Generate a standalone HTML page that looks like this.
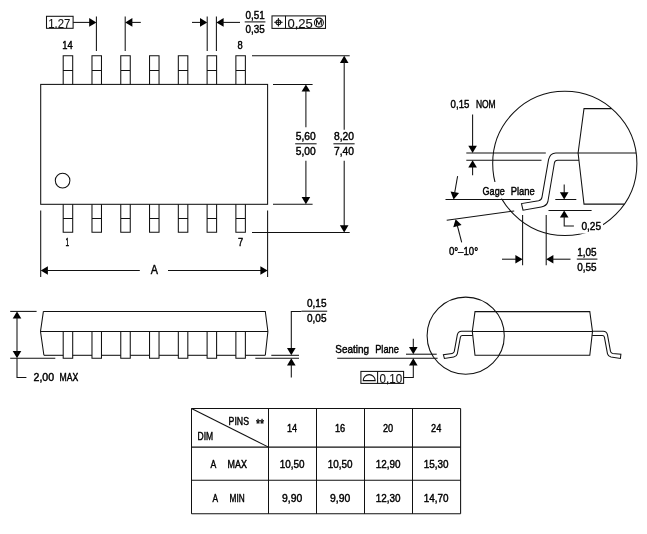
<!DOCTYPE html>
<html><head><meta charset="utf-8"><title>Package outline</title>
<style>
html,body{margin:0;padding:0;background:#fff;}
body{width:647px;height:534px;overflow:hidden;}
svg{display:block;will-change:transform;opacity:0.999;}
svg *{vector-effect:none;}
line,path,rect,circle{fill:none;stroke:#111;stroke-width:1.05;stroke-linecap:butt;stroke-linejoin:miter;}
.f{fill:#000;stroke:none;}
rect.w{fill:#fff;stroke:none;}
text{font-family:"Liberation Sans",sans-serif;fill:#000;stroke:#000;stroke-width:0.45;stroke-linejoin:round;}
text.b{stroke-width:0.1;fill:#111;}
</style></head>
<body>
<svg width="647" height="534" viewBox="0 0 647 534">
<rect class="w" x="0" y="0" width="647" height="534"/>
<rect x="40.7" y="84.4" width="226.90" height="119.90"/>
<path d="M63.20,84.4 V55.7 H72.70 V84.4 M63.20,70.4 H72.70" />
<path d="M63.20,204.3 V232.3 H72.70 V204.3 M63.20,218.5 H72.70" />
<path d="M91.98,84.4 V55.7 H101.48 V84.4 M91.98,70.4 H101.48" />
<path d="M91.98,204.3 V232.3 H101.48 V204.3 M91.98,218.5 H101.48" />
<path d="M120.76,84.4 V55.7 H130.26 V84.4 M120.76,70.4 H130.26" />
<path d="M120.76,204.3 V232.3 H130.26 V204.3 M120.76,218.5 H130.26" />
<path d="M149.54,84.4 V55.7 H159.04 V84.4 M149.54,70.4 H159.04" />
<path d="M149.54,204.3 V232.3 H159.04 V204.3 M149.54,218.5 H159.04" />
<path d="M178.32,84.4 V55.7 H187.82 V84.4 M178.32,70.4 H187.82" />
<path d="M178.32,204.3 V232.3 H187.82 V204.3 M178.32,218.5 H187.82" />
<path d="M207.10,84.4 V55.7 H216.60 V84.4 M207.10,70.4 H216.60" />
<path d="M207.10,204.3 V232.3 H216.60 V204.3 M207.10,218.5 H216.60" />
<path d="M235.88,84.4 V55.7 H245.38 V84.4 M235.88,70.4 H245.38" />
<path d="M235.88,204.3 V232.3 H245.38 V204.3 M235.88,218.5 H245.38" />
<circle cx="62.6" cy="180.6" r="7.3"/>
<line x1="40.70" y1="210.50" x2="40.70" y2="277.00"/>
<line x1="267.60" y1="210.50" x2="267.60" y2="277.00"/>
<text x="62.35" y="49.40" font-size="11.5" textLength="10.50" lengthAdjust="spacingAndGlyphs">14</text>
<text x="237.40" y="49.40" font-size="11.5" textLength="5.20" lengthAdjust="spacingAndGlyphs">8</text>
<text x="65.40" y="245.50" font-size="11.5" textLength="3.60" lengthAdjust="spacingAndGlyphs">1</text>
<text x="238.00" y="245.50" font-size="11.5" textLength="5.20" lengthAdjust="spacingAndGlyphs">7</text>
<rect x="46.5" y="16.3" width="26.6" height="12.0"/>
<text x="48.20" y="27.50" font-size="12.6" textLength="22.10" lengthAdjust="spacingAndGlyphs" class="b">1.27</text>
<line x1="73.10" y1="22.40" x2="92.00" y2="22.40"/>
<polygon class="f" points="96.40,22.40 89.20,26.70 89.20,18.10"/>
<line x1="96.40" y1="16.50" x2="96.40" y2="51.00"/>
<line x1="125.20" y1="16.50" x2="125.20" y2="51.00"/>
<polygon class="f" points="125.20,22.40 132.40,18.10 132.40,26.70"/>
<line x1="130.00" y1="22.40" x2="140.80" y2="22.40"/>
<line x1="207.20" y1="16.50" x2="207.20" y2="51.00"/>
<line x1="216.40" y1="16.50" x2="216.40" y2="51.00"/>
<line x1="192.00" y1="22.40" x2="203.00" y2="22.40"/>
<polygon class="f" points="207.20,22.40 200.00,26.70 200.00,18.10"/>
<polygon class="f" points="216.40,22.40 223.60,18.10 223.60,26.70"/>
<line x1="221.00" y1="22.40" x2="240.00" y2="22.40"/>
<text x="245.60" y="19.20" font-size="11.5" textLength="19.20" lengthAdjust="spacingAndGlyphs">0,51</text>
<line x1="244.70" y1="21.90" x2="265.40" y2="21.90"/>
<text x="245.60" y="33.40" font-size="11.5" textLength="19.20" lengthAdjust="spacingAndGlyphs">0,35</text>
<rect x="272" y="15.9" width="53.5" height="12.5"/>
<line x1="285.50" y1="15.90" x2="285.50" y2="28.40"/>
<circle cx="278.4" cy="22.3" r="2.4"/>
<line x1="274.20" y1="22.30" x2="282.60" y2="22.30"/>
<line x1="278.40" y1="18.10" x2="278.40" y2="26.50"/>
<text x="287.40" y="27.50" font-size="12.2" textLength="25.40" lengthAdjust="spacingAndGlyphs" class="b">0,25</text>
<circle cx="318.9" cy="22.6" r="4.5"/>
<path d="M316.5,25.6 V19.6 L318.9,24.4 L321.3,19.6 V25.6" />
<line x1="252.00" y1="55.70" x2="349.70" y2="55.70"/>
<line x1="252.00" y1="232.40" x2="349.70" y2="232.40"/>
<line x1="273.00" y1="84.40" x2="312.60" y2="84.40"/>
<line x1="273.00" y1="204.30" x2="312.60" y2="204.30"/>
<polygon class="f" points="305.90,84.40 310.20,91.60 301.60,91.60"/>
<line x1="305.90" y1="89.00" x2="305.90" y2="127.20"/>
<line x1="305.90" y1="160.80" x2="305.90" y2="199.00"/>
<polygon class="f" points="305.90,204.30 301.60,197.10 310.20,197.10"/>
<polygon class="f" points="344.20,55.70 348.50,62.90 339.90,62.90"/>
<line x1="344.20" y1="60.00" x2="344.20" y2="129.70"/>
<line x1="344.20" y1="160.80" x2="344.20" y2="228.00"/>
<polygon class="f" points="344.20,232.40 339.90,225.20 348.50,225.20"/>
<text x="295.80" y="140.20" font-size="11.5" textLength="19.90" lengthAdjust="spacingAndGlyphs">5,60</text>
<line x1="295.20" y1="143.80" x2="316.60" y2="143.80"/>
<text x="295.80" y="154.80" font-size="11.5" textLength="19.90" lengthAdjust="spacingAndGlyphs">5,00</text>
<text x="334.00" y="140.20" font-size="11.5" textLength="20.00" lengthAdjust="spacingAndGlyphs">8,20</text>
<line x1="333.40" y1="143.80" x2="354.60" y2="143.80"/>
<text x="334.00" y="154.80" font-size="11.5" textLength="20.00" lengthAdjust="spacingAndGlyphs">7,40</text>
<polygon class="f" points="40.70,270.50 47.90,266.20 47.90,274.80"/>
<line x1="45.00" y1="270.50" x2="139.80" y2="270.50"/>
<line x1="168.00" y1="270.50" x2="263.00" y2="270.50"/>
<polygon class="f" points="267.60,270.50 260.40,274.80 260.40,266.20"/>
<text x="150.80" y="273.90" font-size="12.4" textLength="7.20" lengthAdjust="spacingAndGlyphs">A</text>
<path d="M43.4,311.4 H265.3 L267.9,331.5 L265.3,355.3 M43.9,355.3 L40.5,331.5 L43.4,311.4 M40.5,331.5 H267.9" />
<path d="M43.90,355.3 H63.20" />
<path d="M63.20,331.5 V358.3 H72.70 V331.5" />
<path d="M72.70,355.3 H91.98" />
<path d="M91.98,331.5 V358.3 H101.48 V331.5" />
<path d="M101.48,355.3 H120.76" />
<path d="M120.76,331.5 V358.3 H130.26 V331.5" />
<path d="M130.26,355.3 H149.54" />
<path d="M149.54,331.5 V358.3 H159.04 V331.5" />
<path d="M159.04,355.3 H178.32" />
<path d="M178.32,331.5 V358.3 H187.82 V331.5" />
<path d="M187.82,355.3 H207.10" />
<path d="M207.10,331.5 V358.3 H216.60 V331.5" />
<path d="M216.60,355.3 H235.88" />
<path d="M235.88,331.5 V358.3 H245.38 V331.5" />
<path d="M245.38,355.3 H265.3" />
<line x1="10.20" y1="311.40" x2="36.60" y2="311.40"/>
<line x1="10.20" y1="358.30" x2="55.30" y2="358.30"/>
<polygon class="f" points="17.00,311.40 21.30,318.60 12.70,318.60"/>
<polygon class="f" points="17.00,358.30 12.70,351.10 21.30,351.10"/>
<line x1="17.00" y1="316.00" x2="17.00" y2="354.00"/>
<path d="M17,358.3 V377.4 H26.4" />
<text x="33.50" y="381.00" font-size="11.5" textLength="20.60" lengthAdjust="spacingAndGlyphs">2,00</text>
<text x="59.50" y="381.00" font-size="11.5" textLength="18.70" lengthAdjust="spacingAndGlyphs">MAX</text>
<path d="M301.5,311.4 H291.3 V351" />
<polygon class="f" points="291.30,355.30 287.00,348.10 295.60,348.10"/>
<polygon class="f" points="291.30,358.30 295.60,365.50 287.00,365.50"/>
<line x1="291.30" y1="363.00" x2="291.30" y2="377.40"/>
<line x1="271.30" y1="355.30" x2="299.00" y2="355.30"/>
<line x1="255.30" y1="358.30" x2="299.00" y2="358.30"/>
<text x="307.00" y="307.30" font-size="11.5" textLength="19.50" lengthAdjust="spacingAndGlyphs">0,15</text>
<line x1="301.50" y1="311.20" x2="327.20" y2="311.20"/>
<text x="307.00" y="321.60" font-size="11.5" textLength="19.50" lengthAdjust="spacingAndGlyphs">0,05</text>
<circle cx="564.8" cy="163.4" r="72.1"/>
<rect class="w" x="579.5" y="219" width="23.5" height="14.5"/>
<path d="M611.65,108.6 H584 L578.1,153 L584,204.1 H624.31" />
<line x1="578.10" y1="153.00" x2="636.15" y2="153.00"/>
<path d="M578.1,153 H555.8 Q550.2,153 548.6,159.4 L542.0,197.2 Q541.5,200.2 538.6,200.8 L521.5,203.6 L523.0,210.2 L541.2,207.0 Q546.7,206.0 547.9,201.5 L554.4,163 Q554.9,160.3 557.7,160.3 H579" />
<line x1="466.30" y1="153.00" x2="545.80" y2="153.00"/>
<line x1="466.30" y1="160.20" x2="541.50" y2="160.20"/>
<line x1="472.60" y1="114.60" x2="472.60" y2="148.00"/>
<polygon class="f" points="472.60,153.00 468.30,145.80 476.90,145.80"/>
<polygon class="f" points="472.60,160.20 476.90,167.40 468.30,167.40"/>
<line x1="472.60" y1="165.00" x2="472.60" y2="175.20"/>
<text x="450.60" y="108.30" font-size="11.5" textLength="18.80" lengthAdjust="spacingAndGlyphs">0,15</text>
<text x="475.90" y="108.30" font-size="11.5" textLength="19.80" lengthAdjust="spacingAndGlyphs">NOM</text>
<line x1="445.50" y1="199.40" x2="530.50" y2="199.40"/>
<rect class="w" x="481" y="182" width="30" height="16.6"/>
<text x="482.60" y="194.60" font-size="11.5" textLength="22.10" lengthAdjust="spacingAndGlyphs">Gage</text>
<text x="510.70" y="194.60" font-size="11.5" textLength="24.10" lengthAdjust="spacingAndGlyphs">Plane</text>
<line x1="446.70" y1="220.20" x2="514.20" y2="211.00"/>
<polygon class="f" points="453.60,199.40 450.59,191.57 459.06,193.04"/>
<line x1="457.60" y1="176.20" x2="454.30" y2="195.00"/>
<polygon class="f" points="455.60,219.20 461.59,225.07 453.27,227.26"/>
<line x1="461.70" y1="242.40" x2="456.80" y2="223.50"/>
<text x="448.90" y="254.50" font-size="11.5" textLength="29.20" lengthAdjust="spacingAndGlyphs">0°–10°</text>
<line x1="555.30" y1="199.50" x2="576.30" y2="199.50"/>
<line x1="548.50" y1="210.40" x2="591.60" y2="210.40"/>
<line x1="564.20" y1="184.50" x2="564.20" y2="195.00"/>
<polygon class="f" points="564.20,199.50 559.90,192.30 568.50,192.30"/>
<polygon class="f" points="564.20,210.40 568.50,217.60 559.90,217.60"/>
<path d="M564.2,215 V225.9 H573.9" />
<text x="581.40" y="229.70" font-size="11.5" textLength="19.70" lengthAdjust="spacingAndGlyphs">0,25</text>
<line x1="522.60" y1="215.00" x2="522.60" y2="265.30"/>
<line x1="546.20" y1="215.00" x2="546.20" y2="265.30"/>
<line x1="502.00" y1="259.20" x2="518.00" y2="259.20"/>
<polygon class="f" points="522.60,259.20 515.40,263.50 515.40,254.90"/>
<polygon class="f" points="546.20,259.20 553.40,254.90 553.40,263.50"/>
<line x1="551.00" y1="259.20" x2="570.50" y2="259.20"/>
<text x="577.30" y="255.90" font-size="11.5" textLength="19.30" lengthAdjust="spacingAndGlyphs">1,05</text>
<line x1="576.80" y1="259.10" x2="597.40" y2="259.10"/>
<text x="577.30" y="270.70" font-size="11.5" textLength="19.30" lengthAdjust="spacingAndGlyphs">0,55</text>
<circle cx="465.7" cy="335.7" r="38.6"/>
<path d="M475,311.6 H589.8 L592.5,331.4 L589.8,355.2 H475 L472.3,331.4 Z M472.3,331.4 H592.5" />
<path d="M472.3,331.3 H461.6 Q458.2,331.3 457.3,334.8 L454.3,351.4 Q453.9,353.1 452.2,353.4 L443.4,354.8 L444.4,358.4 L453.8,356.9 Q456.6,356.4 457.3,353.8 L460.4,337.2 Q460.8,335.4 462.4,335.4 H472.6" />
<path d="M592.5,331.3 H603.2 Q606.6,331.3 607.5,334.8 L610.5,351.4 Q610.9,353.1 612.6,353.4 L620.9,354.3 L620.4,358.5 L611.0,357.0 Q608.2,356.4 607.5,353.8 L604.4,337.2 Q604.0,335.4 602.4,335.4 H592.2" />
<text x="335.30" y="352.90" font-size="11.5" textLength="33.70" lengthAdjust="spacingAndGlyphs">Seating</text>
<text x="375.20" y="352.90" font-size="11.5" textLength="23.70" lengthAdjust="spacingAndGlyphs">Plane</text>
<line x1="337.20" y1="358.20" x2="437.60" y2="358.20"/>
<line x1="406.00" y1="354.20" x2="436.70" y2="354.20"/>
<line x1="413.30" y1="338.70" x2="413.30" y2="350.00"/>
<polygon class="f" points="413.30,354.20 409.00,347.00 417.60,347.00"/>
<polygon class="f" points="413.30,358.20 417.60,365.40 409.00,365.40"/>
<path d="M413.3,364 V377.4 H403.6" />
<rect x="360.9" y="371.4" width="42.7" height="12.0"/>
<line x1="377.60" y1="371.40" x2="377.60" y2="383.40"/>
<path d="M363.2,380.6 A6,6 0 0 1 375.2,380.6 Z" />
<text x="379.60" y="382.70" font-size="12.4" textLength="22.60" lengthAdjust="spacingAndGlyphs" class="b">0,10</text>
<line x1="191.50" y1="408.50" x2="191.50" y2="513.80"/>
<line x1="268.50" y1="408.50" x2="268.50" y2="513.80"/>
<line x1="316.50" y1="408.50" x2="316.50" y2="513.80"/>
<line x1="364.50" y1="408.50" x2="364.50" y2="513.80"/>
<line x1="412.50" y1="408.50" x2="412.50" y2="513.80"/>
<line x1="460.60" y1="408.50" x2="460.60" y2="513.80"/>
<line x1="191.50" y1="408.50" x2="460.60" y2="408.50"/>
<line x1="191.50" y1="447.10" x2="460.60" y2="447.10"/>
<line x1="191.50" y1="480.30" x2="460.60" y2="480.30"/>
<line x1="191.50" y1="513.80" x2="460.60" y2="513.80"/>
<line x1="191.50" y1="408.50" x2="268.50" y2="447.10"/>
<text x="228.60" y="424.60" font-size="11.5" textLength="20.40" lengthAdjust="spacingAndGlyphs">PINS</text>
<text x="256.00" y="427.90" font-size="12.5" textLength="8.20" lengthAdjust="spacingAndGlyphs">**</text>
<text x="197.50" y="440.10" font-size="11.5" textLength="15.60" lengthAdjust="spacingAndGlyphs">DIM</text>
<text x="210.60" y="467.70" font-size="11.5" textLength="5.80" lengthAdjust="spacingAndGlyphs">A</text>
<text x="227.60" y="467.70" font-size="11.5" textLength="19.30" lengthAdjust="spacingAndGlyphs">MAX</text>
<text x="212.60" y="501.50" font-size="11.5" textLength="5.60" lengthAdjust="spacingAndGlyphs">A</text>
<text x="229.60" y="501.50" font-size="11.5" textLength="15.10" lengthAdjust="spacingAndGlyphs">MIN</text>
<text x="287.00" y="432.10" font-size="11.5" textLength="10.20" lengthAdjust="spacingAndGlyphs">14</text>
<text x="335.00" y="432.10" font-size="11.5" textLength="10.20" lengthAdjust="spacingAndGlyphs">16</text>
<text x="383.00" y="432.10" font-size="11.5" textLength="10.20" lengthAdjust="spacingAndGlyphs">20</text>
<text x="431.05" y="432.10" font-size="11.5" textLength="10.20" lengthAdjust="spacingAndGlyphs">24</text>
<text x="279.70" y="467.70" font-size="11.5" textLength="24.80" lengthAdjust="spacingAndGlyphs">10,50</text>
<text x="327.70" y="467.70" font-size="11.5" textLength="24.80" lengthAdjust="spacingAndGlyphs">10,50</text>
<text x="375.70" y="467.70" font-size="11.5" textLength="24.80" lengthAdjust="spacingAndGlyphs">12,90</text>
<text x="423.75" y="467.70" font-size="11.5" textLength="24.80" lengthAdjust="spacingAndGlyphs">15,30</text>
<text x="282.00" y="501.50" font-size="11.5" textLength="20.20" lengthAdjust="spacingAndGlyphs">9,90</text>
<text x="330.00" y="501.50" font-size="11.5" textLength="20.20" lengthAdjust="spacingAndGlyphs">9,90</text>
<text x="375.70" y="501.50" font-size="11.5" textLength="24.80" lengthAdjust="spacingAndGlyphs">12,30</text>
<text x="423.75" y="501.50" font-size="11.5" textLength="24.80" lengthAdjust="spacingAndGlyphs">14,70</text>
</svg>
</body></html>
